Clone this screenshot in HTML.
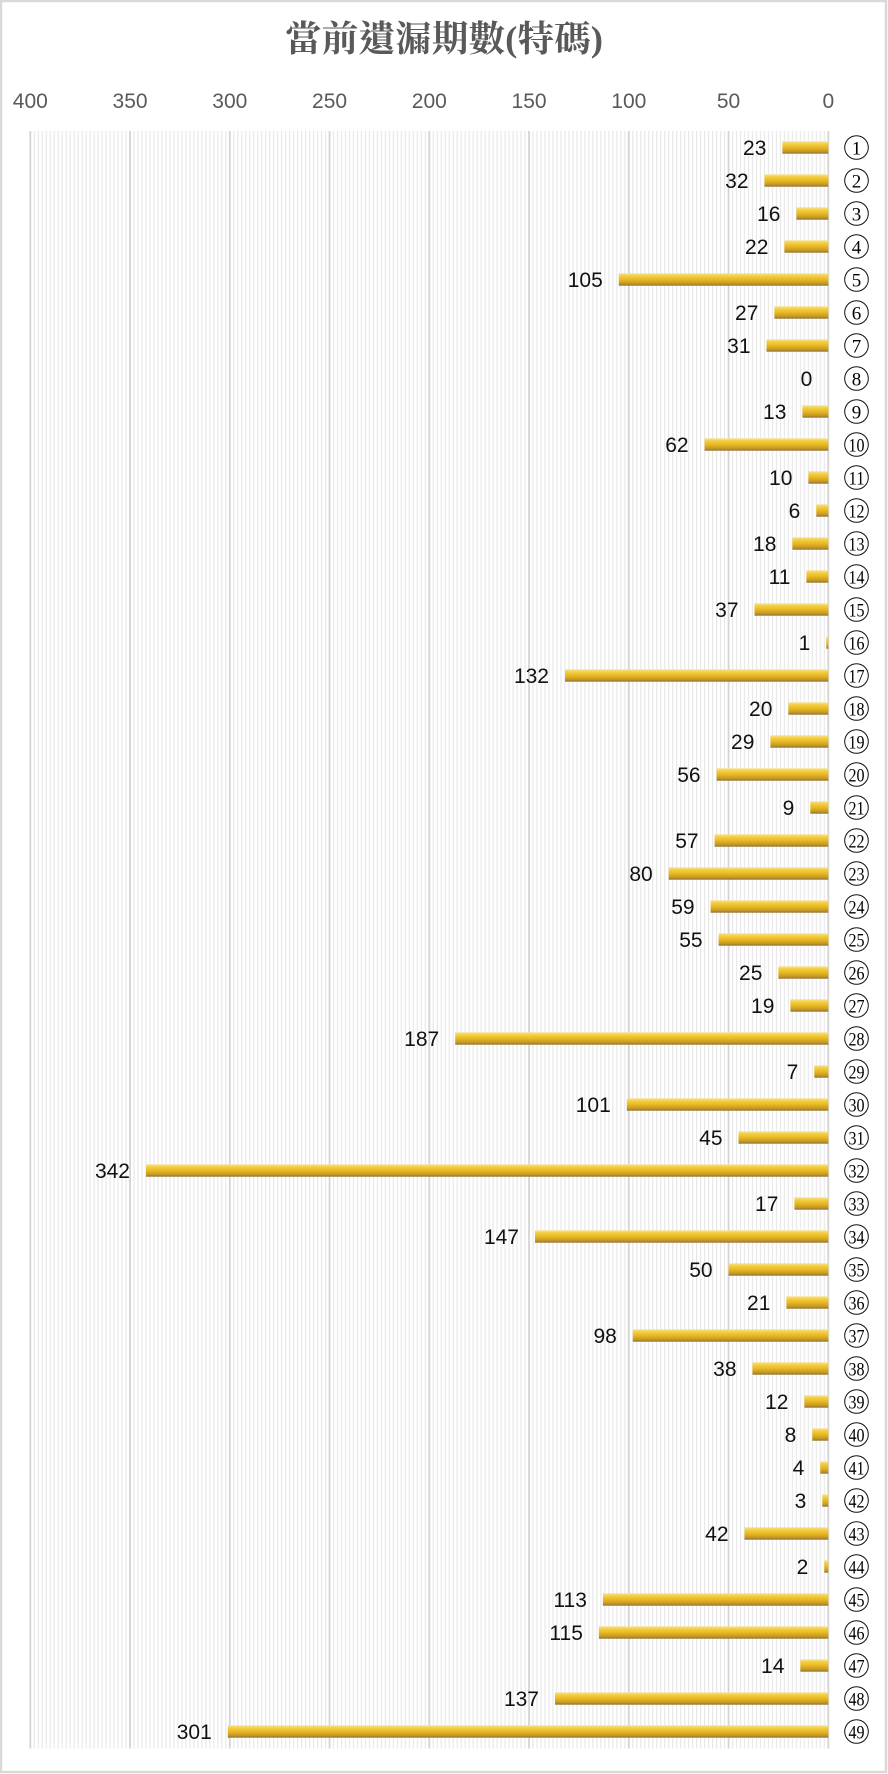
<!DOCTYPE html>
<html><head><meta charset="utf-8"><style>
html,body{margin:0;padding:0;background:#fff;}
svg{display:block;}
.t{font-family:"Liberation Serif","Noto Serif CJK TC","Noto Serif CJK SC",serif;font-weight:bold;font-size:36px;fill:#595959;}
.ax{font-family:"Liberation Sans",sans-serif;font-size:21px;fill:#595959;text-anchor:middle;}
.dl{font-family:"Liberation Sans",sans-serif;font-size:21px;fill:#111;text-anchor:end;}
.cn{font-family:"Liberation Serif",serif;font-size:19px;fill:#000;text-anchor:middle;}
.cc{fill:none;stroke:#111;stroke-width:1;}
.b{fill:url(#bg);}
</style></head><body>
<svg width="888" height="1774" viewBox="0 0 888 1774" xmlns="http://www.w3.org/2000/svg">
<defs>
<linearGradient id="bg" x1="0" y1="0" x2="0" y2="1">
<stop offset="0" stop-color="#f8e396"/>
<stop offset="0.2" stop-color="#f3cf45"/>
<stop offset="0.5" stop-color="#e8b922"/>
<stop offset="0.8" stop-color="#c99a24"/>
<stop offset="1" stop-color="#8f7332"/>
</linearGradient>
<pattern id="mg" x="1.77" y="0" width="3.99" height="10" patternUnits="userSpaceOnUse">
<rect x="0" y="0" width="1.2" height="10" fill="#e8e8e8"/>
</pattern>
</defs>
<rect x="0" y="0" width="888" height="1774" fill="#fff"/>
<rect x="1" y="1" width="885" height="1771" fill="none" stroke="#d9d9d9" stroke-width="2.5"/>
<text class="t" x="444" y="51" text-anchor="middle" textLength="318" lengthAdjust="spacingAndGlyphs">當前遺漏期數(特碼)</text>
<g>
<text class="ax" x="30.3" y="108">400</text>
<text class="ax" x="130.05" y="108">350</text>
<text class="ax" x="229.8" y="108">300</text>
<text class="ax" x="329.55" y="108">250</text>
<text class="ax" x="429.3" y="108">200</text>
<text class="ax" x="529.05" y="108">150</text>
<text class="ax" x="628.8" y="108">100</text>
<text class="ax" x="728.55" y="108">50</text>
<text class="ax" x="828.3" y="108">0</text>
</g>
<rect x="29.6" y="131" width="799.5" height="1617.5" fill="url(#mg)"/>
<g stroke="#d4d4d4" stroke-width="1.8">
<line x1="30.3" y1="131" x2="30.3" y2="1748.5"/>
<line x1="130.05" y1="131" x2="130.05" y2="1748.5"/>
<line x1="229.8" y1="131" x2="229.8" y2="1748.5"/>
<line x1="329.55" y1="131" x2="329.55" y2="1748.5"/>
<line x1="429.3" y1="131" x2="429.3" y2="1748.5"/>
<line x1="529.05" y1="131" x2="529.05" y2="1748.5"/>
<line x1="628.8" y1="131" x2="628.8" y2="1748.5"/>
<line x1="728.55" y1="131" x2="728.55" y2="1748.5"/>
<line x1="828.3" y1="131" x2="828.3" y2="1748.5"/>
</g>

<g transform="translate(0,147.5)"><rect class="b" x="782.4" y="-6.2" width="45.9" height="12.4"/><text class="dl" x="766.4" y="7.5">23</text><circle class="cc" cx="856.5" cy="0" r="11.8"/><text class="cn" x="856.5" y="6.8">1</text></g>
<g transform="translate(0,180.5)"><rect class="b" x="764.5" y="-6.2" width="63.8" height="12.4"/><text class="dl" x="748.5" y="7.5">32</text><circle class="cc" cx="856.5" cy="0" r="11.8"/><text class="cn" x="856.5" y="6.8">2</text></g>
<g transform="translate(0,213.5)"><rect class="b" x="796.4" y="-6.2" width="31.9" height="12.4"/><text class="dl" x="780.4" y="7.5">16</text><circle class="cc" cx="856.5" cy="0" r="11.8"/><text class="cn" x="856.5" y="6.8">3</text></g>
<g transform="translate(0,246.5)"><rect class="b" x="784.4" y="-6.2" width="43.9" height="12.4"/><text class="dl" x="768.4" y="7.5">22</text><circle class="cc" cx="856.5" cy="0" r="11.8"/><text class="cn" x="856.5" y="6.8">4</text></g>
<g transform="translate(0,279.5)"><rect class="b" x="618.8" y="-6.2" width="209.5" height="12.4"/><text class="dl" x="602.8" y="7.5">105</text><circle class="cc" cx="856.5" cy="0" r="11.8"/><text class="cn" x="856.5" y="6.8">5</text></g>
<g transform="translate(0,312.5)"><rect class="b" x="774.4" y="-6.2" width="53.9" height="12.4"/><text class="dl" x="758.4" y="7.5">27</text><circle class="cc" cx="856.5" cy="0" r="11.8"/><text class="cn" x="856.5" y="6.8">6</text></g>
<g transform="translate(0,345.5)"><rect class="b" x="766.5" y="-6.2" width="61.8" height="12.4"/><text class="dl" x="750.5" y="7.5">31</text><circle class="cc" cx="856.5" cy="0" r="11.8"/><text class="cn" x="856.5" y="6.8">7</text></g>
<g transform="translate(0,378.5)"><text class="dl" x="812.3" y="7.5">0</text><circle class="cc" cx="856.5" cy="0" r="11.8"/><text class="cn" x="856.5" y="6.8">8</text></g>
<g transform="translate(0,411.5)"><rect class="b" x="802.4" y="-6.2" width="25.9" height="12.4"/><text class="dl" x="786.4" y="7.5">13</text><circle class="cc" cx="856.5" cy="0" r="11.8"/><text class="cn" x="856.5" y="6.8">9</text></g>
<g transform="translate(0,444.5)"><rect class="b" x="704.6" y="-6.2" width="123.7" height="12.4"/><text class="dl" x="688.6" y="7.5">62</text><circle class="cc" cx="856.5" cy="0" r="11.8"/><text class="cn" x="856.5" y="6.8" textLength="16" lengthAdjust="spacingAndGlyphs">10</text></g>
<g transform="translate(0,477.5)"><rect class="b" x="808.4" y="-6.2" width="19.9" height="12.4"/><text class="dl" x="792.4" y="7.5">10</text><circle class="cc" cx="856.5" cy="0" r="11.8"/><text class="cn" x="856.5" y="6.8" textLength="16" lengthAdjust="spacingAndGlyphs">11</text></g>
<g transform="translate(0,510.5)"><rect class="b" x="816.3" y="-6.2" width="12" height="12.4"/><text class="dl" x="800.3" y="7.5">6</text><circle class="cc" cx="856.5" cy="0" r="11.8"/><text class="cn" x="856.5" y="6.8" textLength="16" lengthAdjust="spacingAndGlyphs">12</text></g>
<g transform="translate(0,543.5)"><rect class="b" x="792.4" y="-6.2" width="35.9" height="12.4"/><text class="dl" x="776.4" y="7.5">18</text><circle class="cc" cx="856.5" cy="0" r="11.8"/><text class="cn" x="856.5" y="6.8" textLength="16" lengthAdjust="spacingAndGlyphs">13</text></g>
<g transform="translate(0,576.5)"><rect class="b" x="806.4" y="-6.2" width="21.9" height="12.4"/><text class="dl" x="790.4" y="7.5">11</text><circle class="cc" cx="856.5" cy="0" r="11.8"/><text class="cn" x="856.5" y="6.8" textLength="16" lengthAdjust="spacingAndGlyphs">14</text></g>
<g transform="translate(0,609.5)"><rect class="b" x="754.5" y="-6.2" width="73.8" height="12.4"/><text class="dl" x="738.5" y="7.5">37</text><circle class="cc" cx="856.5" cy="0" r="11.8"/><text class="cn" x="856.5" y="6.8" textLength="16" lengthAdjust="spacingAndGlyphs">15</text></g>
<g transform="translate(0,642.5)"><rect class="b" x="826.3" y="-6.2" width="2" height="12.4"/><text class="dl" x="810.3" y="7.5">1</text><circle class="cc" cx="856.5" cy="0" r="11.8"/><text class="cn" x="856.5" y="6.8" textLength="16" lengthAdjust="spacingAndGlyphs">16</text></g>
<g transform="translate(0,675.5)"><rect class="b" x="565" y="-6.2" width="263.3" height="12.4"/><text class="dl" x="549" y="7.5">132</text><circle class="cc" cx="856.5" cy="0" r="11.8"/><text class="cn" x="856.5" y="6.8" textLength="16" lengthAdjust="spacingAndGlyphs">17</text></g>
<g transform="translate(0,708.5)"><rect class="b" x="788.4" y="-6.2" width="39.9" height="12.4"/><text class="dl" x="772.4" y="7.5">20</text><circle class="cc" cx="856.5" cy="0" r="11.8"/><text class="cn" x="856.5" y="6.8" textLength="16" lengthAdjust="spacingAndGlyphs">18</text></g>
<g transform="translate(0,741.5)"><rect class="b" x="770.4" y="-6.2" width="57.9" height="12.4"/><text class="dl" x="754.4" y="7.5">29</text><circle class="cc" cx="856.5" cy="0" r="11.8"/><text class="cn" x="856.5" y="6.8" textLength="16" lengthAdjust="spacingAndGlyphs">19</text></g>
<g transform="translate(0,774.5)"><rect class="b" x="716.6" y="-6.2" width="111.7" height="12.4"/><text class="dl" x="700.6" y="7.5">56</text><circle class="cc" cx="856.5" cy="0" r="11.8"/><text class="cn" x="856.5" y="6.8" textLength="16" lengthAdjust="spacingAndGlyphs">20</text></g>
<g transform="translate(0,807.5)"><rect class="b" x="810.3" y="-6.2" width="18" height="12.4"/><text class="dl" x="794.3" y="7.5">9</text><circle class="cc" cx="856.5" cy="0" r="11.8"/><text class="cn" x="856.5" y="6.8" textLength="16" lengthAdjust="spacingAndGlyphs">21</text></g>
<g transform="translate(0,840.5)"><rect class="b" x="714.6" y="-6.2" width="113.7" height="12.4"/><text class="dl" x="698.6" y="7.5">57</text><circle class="cc" cx="856.5" cy="0" r="11.8"/><text class="cn" x="856.5" y="6.8" textLength="16" lengthAdjust="spacingAndGlyphs">22</text></g>
<g transform="translate(0,873.5)"><rect class="b" x="668.7" y="-6.2" width="159.6" height="12.4"/><text class="dl" x="652.7" y="7.5">80</text><circle class="cc" cx="856.5" cy="0" r="11.8"/><text class="cn" x="856.5" y="6.8" textLength="16" lengthAdjust="spacingAndGlyphs">23</text></g>
<g transform="translate(0,906.5)"><rect class="b" x="710.6" y="-6.2" width="117.7" height="12.4"/><text class="dl" x="694.6" y="7.5">59</text><circle class="cc" cx="856.5" cy="0" r="11.8"/><text class="cn" x="856.5" y="6.8" textLength="16" lengthAdjust="spacingAndGlyphs">24</text></g>
<g transform="translate(0,939.5)"><rect class="b" x="718.6" y="-6.2" width="109.7" height="12.4"/><text class="dl" x="702.6" y="7.5">55</text><circle class="cc" cx="856.5" cy="0" r="11.8"/><text class="cn" x="856.5" y="6.8" textLength="16" lengthAdjust="spacingAndGlyphs">25</text></g>
<g transform="translate(0,972.5)"><rect class="b" x="778.4" y="-6.2" width="49.9" height="12.4"/><text class="dl" x="762.4" y="7.5">25</text><circle class="cc" cx="856.5" cy="0" r="11.8"/><text class="cn" x="856.5" y="6.8" textLength="16" lengthAdjust="spacingAndGlyphs">26</text></g>
<g transform="translate(0,1005.5)"><rect class="b" x="790.4" y="-6.2" width="37.9" height="12.4"/><text class="dl" x="774.4" y="7.5">19</text><circle class="cc" cx="856.5" cy="0" r="11.8"/><text class="cn" x="856.5" y="6.8" textLength="16" lengthAdjust="spacingAndGlyphs">27</text></g>
<g transform="translate(0,1038.5)"><rect class="b" x="455.2" y="-6.2" width="373.1" height="12.4"/><text class="dl" x="439.2" y="7.5">187</text><circle class="cc" cx="856.5" cy="0" r="11.8"/><text class="cn" x="856.5" y="6.8" textLength="16" lengthAdjust="spacingAndGlyphs">28</text></g>
<g transform="translate(0,1071.5)"><rect class="b" x="814.3" y="-6.2" width="14" height="12.4"/><text class="dl" x="798.3" y="7.5">7</text><circle class="cc" cx="856.5" cy="0" r="11.8"/><text class="cn" x="856.5" y="6.8" textLength="16" lengthAdjust="spacingAndGlyphs">29</text></g>
<g transform="translate(0,1104.5)"><rect class="b" x="626.8" y="-6.2" width="201.5" height="12.4"/><text class="dl" x="610.8" y="7.5">101</text><circle class="cc" cx="856.5" cy="0" r="11.8"/><text class="cn" x="856.5" y="6.8" textLength="16" lengthAdjust="spacingAndGlyphs">30</text></g>
<g transform="translate(0,1137.5)"><rect class="b" x="738.5" y="-6.2" width="89.8" height="12.4"/><text class="dl" x="722.5" y="7.5">45</text><circle class="cc" cx="856.5" cy="0" r="11.8"/><text class="cn" x="856.5" y="6.8" textLength="16" lengthAdjust="spacingAndGlyphs">31</text></g>
<g transform="translate(0,1170.5)"><rect class="b" x="146" y="-6.2" width="682.3" height="12.4"/><text class="dl" x="130" y="7.5">342</text><circle class="cc" cx="856.5" cy="0" r="11.8"/><text class="cn" x="856.5" y="6.8" textLength="16" lengthAdjust="spacingAndGlyphs">32</text></g>
<g transform="translate(0,1203.5)"><rect class="b" x="794.4" y="-6.2" width="33.9" height="12.4"/><text class="dl" x="778.4" y="7.5">17</text><circle class="cc" cx="856.5" cy="0" r="11.8"/><text class="cn" x="856.5" y="6.8" textLength="16" lengthAdjust="spacingAndGlyphs">33</text></g>
<g transform="translate(0,1236.5)"><rect class="b" x="535" y="-6.2" width="293.3" height="12.4"/><text class="dl" x="519" y="7.5">147</text><circle class="cc" cx="856.5" cy="0" r="11.8"/><text class="cn" x="856.5" y="6.8" textLength="16" lengthAdjust="spacingAndGlyphs">34</text></g>
<g transform="translate(0,1269.5)"><rect class="b" x="728.6" y="-6.2" width="99.7" height="12.4"/><text class="dl" x="712.6" y="7.5">50</text><circle class="cc" cx="856.5" cy="0" r="11.8"/><text class="cn" x="856.5" y="6.8" textLength="16" lengthAdjust="spacingAndGlyphs">35</text></g>
<g transform="translate(0,1302.5)"><rect class="b" x="786.4" y="-6.2" width="41.9" height="12.4"/><text class="dl" x="770.4" y="7.5">21</text><circle class="cc" cx="856.5" cy="0" r="11.8"/><text class="cn" x="856.5" y="6.8" textLength="16" lengthAdjust="spacingAndGlyphs">36</text></g>
<g transform="translate(0,1335.5)"><rect class="b" x="632.8" y="-6.2" width="195.5" height="12.4"/><text class="dl" x="616.8" y="7.5">98</text><circle class="cc" cx="856.5" cy="0" r="11.8"/><text class="cn" x="856.5" y="6.8" textLength="16" lengthAdjust="spacingAndGlyphs">37</text></g>
<g transform="translate(0,1368.5)"><rect class="b" x="752.5" y="-6.2" width="75.8" height="12.4"/><text class="dl" x="736.5" y="7.5">38</text><circle class="cc" cx="856.5" cy="0" r="11.8"/><text class="cn" x="856.5" y="6.8" textLength="16" lengthAdjust="spacingAndGlyphs">38</text></g>
<g transform="translate(0,1401.5)"><rect class="b" x="804.4" y="-6.2" width="23.9" height="12.4"/><text class="dl" x="788.4" y="7.5">12</text><circle class="cc" cx="856.5" cy="0" r="11.8"/><text class="cn" x="856.5" y="6.8" textLength="16" lengthAdjust="spacingAndGlyphs">39</text></g>
<g transform="translate(0,1434.5)"><rect class="b" x="812.3" y="-6.2" width="16" height="12.4"/><text class="dl" x="796.3" y="7.5">8</text><circle class="cc" cx="856.5" cy="0" r="11.8"/><text class="cn" x="856.5" y="6.8" textLength="16" lengthAdjust="spacingAndGlyphs">40</text></g>
<g transform="translate(0,1467.5)"><rect class="b" x="820.3" y="-6.2" width="8" height="12.4"/><text class="dl" x="804.3" y="7.5">4</text><circle class="cc" cx="856.5" cy="0" r="11.8"/><text class="cn" x="856.5" y="6.8" textLength="16" lengthAdjust="spacingAndGlyphs">41</text></g>
<g transform="translate(0,1500.5)"><rect class="b" x="822.3" y="-6.2" width="6" height="12.4"/><text class="dl" x="806.3" y="7.5">3</text><circle class="cc" cx="856.5" cy="0" r="11.8"/><text class="cn" x="856.5" y="6.8" textLength="16" lengthAdjust="spacingAndGlyphs">42</text></g>
<g transform="translate(0,1533.5)"><rect class="b" x="744.5" y="-6.2" width="83.8" height="12.4"/><text class="dl" x="728.5" y="7.5">42</text><circle class="cc" cx="856.5" cy="0" r="11.8"/><text class="cn" x="856.5" y="6.8" textLength="16" lengthAdjust="spacingAndGlyphs">43</text></g>
<g transform="translate(0,1566.5)"><rect class="b" x="824.3" y="-6.2" width="4" height="12.4"/><text class="dl" x="808.3" y="7.5">2</text><circle class="cc" cx="856.5" cy="0" r="11.8"/><text class="cn" x="856.5" y="6.8" textLength="16" lengthAdjust="spacingAndGlyphs">44</text></g>
<g transform="translate(0,1599.5)"><rect class="b" x="602.9" y="-6.2" width="225.4" height="12.4"/><text class="dl" x="586.9" y="7.5">113</text><circle class="cc" cx="856.5" cy="0" r="11.8"/><text class="cn" x="856.5" y="6.8" textLength="16" lengthAdjust="spacingAndGlyphs">45</text></g>
<g transform="translate(0,1632.5)"><rect class="b" x="598.9" y="-6.2" width="229.4" height="12.4"/><text class="dl" x="582.9" y="7.5">115</text><circle class="cc" cx="856.5" cy="0" r="11.8"/><text class="cn" x="856.5" y="6.8" textLength="16" lengthAdjust="spacingAndGlyphs">46</text></g>
<g transform="translate(0,1665.5)"><rect class="b" x="800.4" y="-6.2" width="27.9" height="12.4"/><text class="dl" x="784.4" y="7.5">14</text><circle class="cc" cx="856.5" cy="0" r="11.8"/><text class="cn" x="856.5" y="6.8" textLength="16" lengthAdjust="spacingAndGlyphs">47</text></g>
<g transform="translate(0,1698.5)"><rect class="b" x="555" y="-6.2" width="273.3" height="12.4"/><text class="dl" x="539" y="7.5">137</text><circle class="cc" cx="856.5" cy="0" r="11.8"/><text class="cn" x="856.5" y="6.8" textLength="16" lengthAdjust="spacingAndGlyphs">48</text></g>
<g transform="translate(0,1731.5)"><rect class="b" x="227.8" y="-6.2" width="600.5" height="12.4"/><text class="dl" x="211.8" y="7.5">301</text><circle class="cc" cx="856.5" cy="0" r="11.8"/><text class="cn" x="856.5" y="6.8" textLength="16" lengthAdjust="spacingAndGlyphs">49</text></g>
</svg>
</body></html>
